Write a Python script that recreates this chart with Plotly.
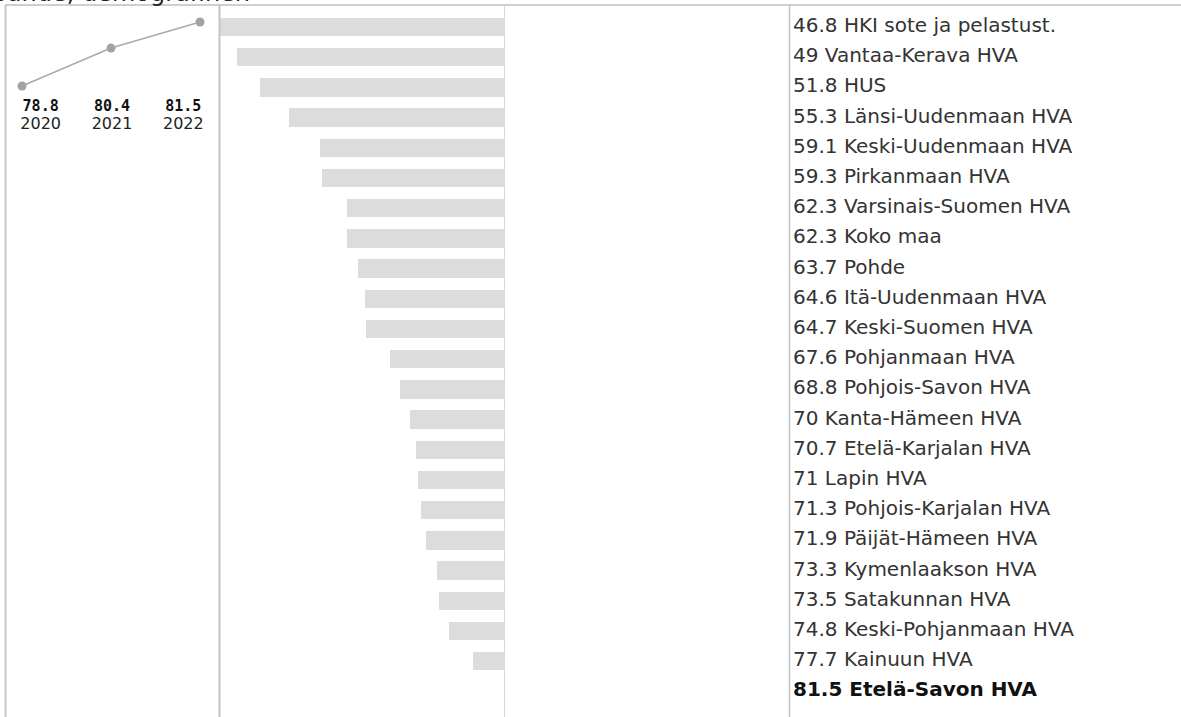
import plotly.graph_objects as go

W, H = 1181, 717

title_text = "Huoltosuhde, demografinen"
years = ["2020", "2021", "2022"]
trend_values = [78.8, 80.4, 81.5]

regions = [
    "HKI sote ja pelastust.", "Vantaa-Kerava HVA", "HUS", "Länsi-Uudenmaan HVA",
    "Keski-Uudenmaan HVA", "Pirkanmaan HVA", "Varsinais-Suomen HVA", "Koko maa",
    "Pohde", "Itä-Uudenmaan HVA", "Keski-Suomen HVA", "Pohjanmaan HVA",
    "Pohjois-Savon HVA", "Kanta-Hämeen HVA", "Etelä-Karjalan HVA", "Lapin HVA",
    "Pohjois-Karjalan HVA", "Päijät-Hämeen HVA", "Kymenlaakson HVA",
    "Satakunnan HVA", "Keski-Pohjanmaan HVA", "Kainuun HVA", "Etelä-Savon HVA",
]
region_values = [46.8, 49, 51.8, 55.3, 59.1, 59.3, 62.3, 62.3, 63.7, 64.6, 64.7,
                 67.6, 68.8, 70, 70.7, 71, 71.3, 71.9, 73.3, 73.5, 74.8, 77.7, 81.5]
selected_region = "Etelä-Savon HVA"


def px_x(p):
    return p / W


def px_y(p):
    return 1 - p / H


n = len(regions)
rows = list(range(n))
ref_value = region_values[regions.index(selected_region)]
diffs = [v - ref_value for v in region_values]
max_abs = max(abs(d) for d in diffs)

labels = []
label_colors = []
for name, v in zip(regions, region_values):
    t = f"{v:g} {name}"
    if name == selected_region:
        labels.append(f"<b>{t}</b>")
        label_colors.append("#111111")
    else:
        labels.append(t)
        label_colors.append("#333333")

# row geometry
first_center, row_pitch, top_px = 27.0, 30.2, 5.0
row_range = [(H - first_center) / row_pitch, -(first_center - top_px) / row_pitch]

fig = go.Figure()

# left: trend line
fig.add_trace(go.Scatter(
    x=list(range(len(years))), y=trend_values, mode="lines+markers",
    line=dict(color="#aaaaaa", width=1.5),
    marker=dict(size=9, color="#a3a3a3"),
    xaxis="x", yaxis="y", hoverinfo="skip",
))
fig.add_trace(go.Scatter(
    x=list(range(len(years))), y=[1.5] * len(years), mode="text",
    text=[f"<b>{v}</b>" for v in trend_values], textposition="middle center",
    textfont=dict(family="DejaVu Sans Mono", size=15, color="#111111"),
    xaxis="x4", yaxis="y4", hoverinfo="skip",
))
fig.add_trace(go.Scatter(
    x=list(range(len(years))), y=[0.5] * len(years), mode="text",
    text=years, textposition="middle center",
    textfont=dict(family="DejaVu Sans", size=16, color="#222222"),
    xaxis="x4", yaxis="y4", hoverinfo="skip",
))

# middle: difference bars
fig.add_trace(go.Bar(
    x=diffs, y=rows, orientation="h", width=0.61,
    marker=dict(color="#dcdcdc", line=dict(width=0)),
    xaxis="x2", yaxis="y2", hoverinfo="skip",
))

# right: labels
fig.add_trace(go.Scatter(
    x=[0] * n, y=rows, mode="text", text=labels, textposition="middle right",
    textfont=dict(family="DejaVu Sans", size=20, color=label_colors),
    xaxis="x3", yaxis="y2", hoverinfo="skip",
))

hidden = dict(showgrid=False, zeroline=False, showticklabels=False, ticks="",
              showline=False, fixedrange=True)

fig.update_layout(
    width=W, height=H,
    margin=dict(l=0, r=0, t=0, b=0),
    paper_bgcolor="white", plot_bgcolor="rgba(0,0,0,0)",
    showlegend=False, hovermode=False,
    xaxis=dict(domain=[px_x(5), px_x(219)], range=[-0.191, 2.213], anchor="y", **hidden),
    yaxis=dict(domain=[px_y(140), px_y(5)], range=[76.521, 82.217], anchor="x", **hidden),
    xaxis4=dict(domain=[px_x(5), px_x(219)], range=[-0.5, 2.5], anchor="y4", **hidden),
    yaxis4=dict(domain=[px_y(134), px_y(98)], range=[0, 2], anchor="x4", **hidden),
    xaxis2=dict(domain=[px_x(219), px_x(790)], range=[-max_abs, max_abs], anchor="y2",
                showgrid=False, showticklabels=False, ticks="", showline=False,
                zeroline=True, zerolinecolor="#d6d6d6", zerolinewidth=1, fixedrange=True),
    yaxis2=dict(domain=[0, px_y(top_px)], range=row_range, anchor="x2", **hidden),
    xaxis3=dict(domain=[px_x(793), 1], range=[0, 1], anchor="y2", **hidden),
    bargap=0,
    shapes=[
        dict(type="line", xref="paper", yref="paper", x0=px_x(5), x1=1,
             y0=px_y(5), y1=px_y(5), line=dict(color="#cfcfcf", width=2)),
        dict(type="line", xref="paper", yref="paper", x0=px_x(5.5), x1=px_x(5.5),
             y0=0, y1=px_y(5), line=dict(color="#c8c8c8", width=2)),
        dict(type="line", xref="paper", yref="paper", x0=px_x(219.5), x1=px_x(219.5),
             y0=0, y1=px_y(5), line=dict(color="#c4c4c4", width=2)),
        dict(type="line", xref="paper", yref="paper", x0=px_x(789.5), x1=px_x(789.5),
             y0=0, y1=px_y(5), line=dict(color="#c4c4c4", width=1.5)),
    ],
    annotations=[
        dict(text=title_text, xref="paper", yref="paper", x=px_x(-87), y=1 + 7 / H,
             xanchor="left", yanchor="middle", showarrow=False,
             font=dict(family="DejaVu Sans", size=24, color="#222222")),
    ],
)

fig.write_html("out.html", config={"displayModeBar": False},
               post_script="document.body.style.margin='0';document.body.style.overflow='hidden';")
